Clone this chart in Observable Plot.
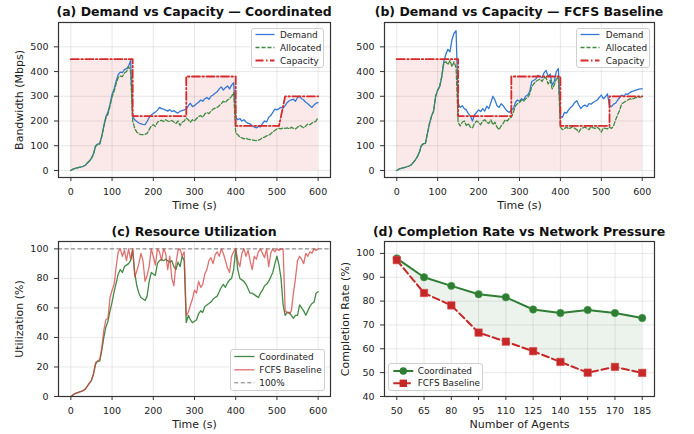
<!DOCTYPE html>
<html>
<head>
<meta charset="utf-8">
<script src="https://cdn.jsdelivr.net/npm/d3@7"></script>
<script src="https://cdn.jsdelivr.net/npm/@observablehq/plot@0.6"></script>
<style>
  html, body { margin: 0; padding: 0; background: #fff; }
  #wrap { position: relative; width: 694px; height: 434px; overflow: hidden; font-family: "DejaVu Sans", sans-serif; background: #fff; }
  .panel { position: absolute; }
  .panel svg { display: block; }
  .title { position: absolute; font-weight: bold; font-size: 12.5px; white-space: nowrap; transform: translate(-50%, -50%); color: #111; }
  .legend { position: absolute; background: rgba(255,255,255,0.85); border: 1px solid #cfcfcf; border-radius: 3px; box-sizing: border-box; }
  .legend svg { position: absolute; left: 0; top: 0; overflow: visible; }
  .legend span { position: absolute; font-size: 8.9px; color: #222; white-space: nowrap; transform: translateY(-50%); line-height: 1; }
</style>
</head>
<body>
<div id="wrap"></div>
<script>
// ---------------- data ----------------
const sampleTimes = d3.range(0, 601, 5); // seconds, one sample every 5 s

// (a) Coordinated
const demandA = [0,5,8,10,12,14,17,21,30,38,50,68,100,107,109,140,182,218,236,268,308,330,362,388,398,396,408,412,422,445,
  218,205,198,192,188,186,185,198,214,224,230,236,244,255,250,248,244,240,246,238,242,236,232,240,242,245,
  248,262,272,258,262,270,276,285,280,290,295,288,300,305,312,318,330,338,325,335,342,330,345,355,
  215,205,210,200,205,196,190,188,181,176,172,178,176,190,200,196,215,222,235,248,245,250,255,252,
  262,275,282,286,288,280,295,300,290,285,276,270,262,255,265,272,274];
const allocA = [0,5,8,10,12,14,17,21,30,38,49,66,97,105,107,136,176,212,228,260,298,320,352,376,382,380,394,400,420,402,
  200,170,155,148,145,145,146,150,165,180,185,178,195,200,203,198,205,200,198,202,196,190,200,182,195,200,
  212,205,195,205,200,210,218,222,215,228,235,230,240,248,252,255,262,270,280,275,285,290,300,315,
  150,145,135,132,128,130,127,125,124,122,121,123,126,132,135,140,142,148,155,162,168,170,168,172,
  170,172,168,175,170,168,175,182,178,172,180,188,185,192,195,200,215];
const capTimeA = [0,150,150,280,280,400,400,505,520,600];
const capValA  = [450,450,220,220,380,380,180,180,300,300];

// (b) FCFS Baseline
const demandB = [0,5,8,10,12,15,18,22,32,42,55,72,100,108,110,150,190,220,240,300,325,340,380,440,470,490,480,530,555,565,
  270,255,262,250,245,230,220,200,225,235,245,238,250,240,260,250,275,300,285,262,255,270,262,250,240,235,
  245,250,275,285,280,290,285,300,305,320,360,365,370,385,380,375,395,405,380,390,345,360,400,412,
  220,215,235,232,245,255,262,275,282,265,250,260,265,258,270,268,275,280,285,295,305,290,298,310,
  262,258,268,272,285,295,305,300,310,308,315,320,322,325,328,330,330];
const allocB = [0,5,8,10,12,15,18,22,32,42,55,72,100,108,110,150,190,220,240,300,325,340,380,435,440,428,445,420,440,415,
  195,180,195,200,182,190,175,172,190,200,195,185,200,205,195,190,205,185,195,175,165,180,190,205,200,210,
  215,235,260,270,275,285,280,290,295,310,340,350,360,365,370,360,375,375,350,365,330,345,370,375,
  175,165,170,175,168,172,178,170,165,155,168,172,175,170,165,178,172,170,175,168,155,172,170,168,
  175,170,180,205,225,245,270,275,280,285,290,288,292,295,298,296,300];
const capTimeB = [0,150,150,280,280,400,400,520,520,600];
const capValB  = [450,450,220,220,380,380,180,180,300,300];

// (c) Resource utilization (%)
const utilCoord = [0,1,2,2.5,3,3.5,4,5,7,9,11,15,22,24,24,31,40,47,51,58,64,71,77,83,86,84,88,89,90,92,
  99,84,75,70,67,66,65,68,78,84,83,82,90,92,93,92,93,92,91,92,88,86,91,88,95,92,
  50,55,52,50,51,52,56,58,57,61,62,63,64,66,67,68,71,74,76,74,77,79,80,86,
  100,86,80,79,78,76,73,70,70,69,68,67,70,72,75,76,78,81,84,90,95,89,80,62,
  55,57,57,55,53,55,55,62,60,58,55,58,61,63,64,70,71];
const utilFcfs = [0,1,2,2.5,3,3.5,4,5,7,9,11,16,23,24,25,33,45,52,53,67,72,76,88,98,100,95,99,92,100,93,
  100,81,85,90,97,92,78,82,88,100,95,89,100,98,92,100,97,86,95,80,75,90,99,100,95,98,
  55,57,62,66,72,70,78,74,76,83,86,92,94,90,96,98,95,100,97,92,87,84,95,98,
  100,92,88,97,100,95,99,92,86,95,93,98,100,97,94,100,88,97,100,98,100,99,100,100,
  58,57,56,58,70,80,92,95,93,90,97,95,98,97,100,99,100];

// (d) Completion rate vs number of agents
const agents = [50,65,80,95,110,125,140,155,170,185];
const rateCoord = [97.9,90.0,86.4,82.9,81.6,76.5,75.0,76.3,75.0,72.9];
const rateFcfs  = [97.2,83.4,78.2,66.8,63.0,59.0,54.5,50.0,52.4,49.9];

// tick labels
const timeTicks = [0,100,200,300,400,500,600];
const bwTicks = [0,100,200,300,400,500];
const utilTicks = [0,20,40,60,80,100];
const rateTicks = [40,50,60,70,80,90,100];

// ---------------- styling ----------------
const FONT = "DejaVu Sans";
const BLUE = "#3478d4", GREEN = "#3d8b40", RED = "#d62a2a";
const CGREEN = "#2e7d32", CRED = "#d64040";
const DRED = "#c62828";
const CAPDASH = "8,2.5,1.5,2.5";

const series = (vals) => sampleTimes.map((t, i) => ({t, v: vals[i]}));
const steps = (ts, vs) => ts.map((t, i) => ({t, v: vs[i]}));

function baseStyle() {
  return {fontFamily: FONT, fontSize: "9.5px", color: "#222", background: "transparent", overflow: "visible"};
}
function gridAndAxes(xt, yt, xl, yl) {
  const m = [
    Plot.frame({stroke: "#333", strokeWidth: 1.2}),
    Plot.axisX(xt, {tickSize: 4, tickPadding: 7, stroke: "#333", label: null}),
    Plot.axisY(yt, {tickSize: 4, tickPadding: 6, stroke: "#333", label: null})
  ];
  if (xl) m.push(Plot.text([xl], {text: d => d, frameAnchor: "bottom", textAnchor: "middle", dy: 31.5, lineAnchor: "bottom", fontSize: 11, fill: "#222"}));
  if (yl) m.push(Plot.text([yl], {text: d => d, frameAnchor: "left", textAnchor: "middle", rotate: -90, dx: -43, lineAnchor: "top", fontSize: 11, fill: "#222"}));
  return m;
}
function grids(xt, yt) {
  return [
    Plot.gridX(xt, {stroke: "#000", strokeOpacity: 0.09, strokeWidth: 1}),
    Plot.gridY(yt, {stroke: "#000", strokeOpacity: 0.09, strokeWidth: 1})
  ];
}

function bwPanel(demand, alloc, capT, capV, ml, mr, yl) {
  const cap = steps(capT, capV);
  return Plot.plot({
    width: 347, height: 217, marginLeft: ml, marginRight: mr, marginTop: 22, marginBottom: 40,
    style: baseStyle(),
    x: {domain: [-30, 630]},
    y: {domain: [-28.5, 598.5]},
    marks: [
      ...grids(timeTicks, bwTicks),
      Plot.areaY(cap, {x: "t", y1: 0, y2: "v", fill: RED, fillOpacity: 0.1}),
      Plot.line(series(demand), {x: "t", y: "v", stroke: BLUE, strokeWidth: 1.3}),
      Plot.line(series(alloc), {x: "t", y: "v", stroke: GREEN, strokeWidth: 1.3, strokeDasharray: "4,2"}),
      Plot.line(cap, {x: "t", y: "v", stroke: RED, strokeWidth: 1.8, strokeDasharray: CAPDASH}),
      ...gridAndAxes(timeTicks, bwTicks, "Time (s)", yl)
    ]
  });
}

const wrap = document.getElementById("wrap");
function place(el, left, top) {
  const d = document.createElement("div");
  d.className = "panel";
  d.style.left = left + "px"; d.style.top = top + "px";
  d.appendChild(el);
  wrap.appendChild(d);
}
function title(text, cx, cy) {
  const d = document.createElement("div");
  d.className = "title"; d.textContent = text;
  d.style.left = cx + "px"; d.style.top = cy + "px";
  wrap.appendChild(d);
}
function legend(left, top, w, h, items, rowYs, sx0, sx1, tx) {
  const d = document.createElement("div");
  d.className = "legend";
  Object.assign(d.style, {left: left + "px", top: top + "px", width: w + "px", height: h + "px"});
  let svg = `<svg width="${w}" height="${h}">`;
  items.forEach((it, i) => {
    const y = rowYs[i] - 1;
    svg += `<line x1="${sx0}" x2="${sx1}" y1="${y}" y2="${y}" stroke="${it.stroke}" stroke-width="${it.width}" ${it.dash ? `stroke-dasharray="${it.dash}"` : ""} ${it.opacity ? `stroke-opacity="${it.opacity}"` : ""}/>`;
    const mx = (sx0 + sx1) / 2;
    if (it.marker === "circle") svg += `<circle cx="${mx}" cy="${y}" r="3.7" fill="${it.stroke}"/>`;
    if (it.marker === "square") svg += `<rect x="${mx - 3.7}" y="${y - 3.7}" width="7.4" height="7.4" fill="${it.stroke}"/>`;
  });
  svg += `</svg>`;
  d.innerHTML = svg;
  items.forEach((it, i) => {
    const s = document.createElement("span");
    s.textContent = it.label;
    s.style.left = tx + "px"; s.style.top = (rowYs[i] - 1) + "px";
    d.appendChild(s);
  });
  wrap.appendChild(d);
}

// (a)
place(bwPanel(demandA, allocA, capTimeA, capValA, 58, 17, "Bandwidth (Mbps)"), 0, 0);
// (b)
place(bwPanel(demandB, allocB, capTimeB, capValB, 37, 40, null), 347, 0);

// (c)
const pc = Plot.plot({
  width: 347, height: 217, marginLeft: 58, marginRight: 17, marginTop: 24, marginBottom: 38,
  style: baseStyle(),
  x: {domain: [-30, 630]},
  y: {domain: [0, 105]},
  marks: [
    ...grids(timeTicks, utilTicks),
    Plot.ruleY([100], {stroke: "#777", strokeWidth: 1, strokeDasharray: "4,2.5"}),
    Plot.line(series(utilCoord), {x: "t", y: "v", stroke: CGREEN, strokeWidth: 1.3, strokeOpacity: 0.9}),
    Plot.line(series(utilFcfs), {x: "t", y: "v", stroke: CRED, strokeWidth: 1.3, strokeOpacity: 0.75}),
    ...gridAndAxes(timeTicks, utilTicks, "Time (s)", "Utilization (%)")
  ]
});
place(pc, 0, 217);

// (d)
const dRows = agents.map((a, i) => ({a, c: rateCoord[i], f: rateFcfs[i]}));
const pd = Plot.plot({
  width: 347, height: 217, marginLeft: 37, marginRight: 40, marginTop: 24, marginBottom: 38,
  style: baseStyle(),
  x: {domain: [43.25, 191.75]},
  y: {domain: [40, 105]},
  marks: [
    ...grids(agents, rateTicks),
    Plot.areaY(dRows, {x: "a", y1: "f", y2: "c", fill: CGREEN, fillOpacity: 0.09}),
    Plot.line(dRows, {x: "a", y: "c", stroke: CGREEN, strokeWidth: 2}),
    Plot.dot(dRows, {x: "a", y: "c", r: 3.7, fill: CGREEN, stroke: "#3f9a44", strokeWidth: 0.6}),
    Plot.line(dRows, {x: "a", y: "f", stroke: DRED, strokeWidth: 2, strokeDasharray: "7,3.5"}),
    Plot.dot(dRows, {x: "a", y: "f", r: 4.2, symbol: "square", fill: DRED, stroke: "#d84a4a", strokeWidth: 0.6}),
    ...gridAndAxes(agents, rateTicks, "Number of Agents", "Completion Rate (%)")
  ]
});
place(pd, 347, 217);

// titles
title("(a) Demand vs Capacity — Coordinated", 194, 11);
title("(b) Demand vs Capacity — FCFS Baseline", 519, 11);
title("(c) Resource Utilization", 194, 230.5);
title("(d) Completion Rate vs Network Pressure", 519, 230.5);

// legends
const bwItems = [
  {label: "Demand", stroke: BLUE, width: 1.3},
  {label: "Allocated", stroke: GREEN, width: 1.3, dash: "4,2"},
  {label: "Capacity", stroke: RED, width: 1.8, dash: CAPDASH}
];
legend(250.5, 28.3, 73.5, 40, bwItems, [6.5, 19.5, 32.5], 3.5, 22.5, 28.5);
legend(576.3, 28.3, 74, 40, bwItems, [6.5, 19.5, 32.5], 3.5, 22.5, 28.5);
legend(230, 349.3, 94.5, 41.7, [
  {label: "Coordinated", stroke: CGREEN, width: 1.3, opacity: 0.9},
  {label: "FCFS Baseline", stroke: CRED, width: 1.3, opacity: 0.75},
  {label: "100%", stroke: "#777", width: 1, dash: "4,2.5"}
], [7.5, 20.8, 33.8], 3.3, 23.3, 28.3);
legend(387.7, 362.7, 95.5, 28.3, [
  {label: "Coordinated", stroke: CGREEN, width: 2, marker: "circle"},
  {label: "FCFS Baseline", stroke: DRED, width: 2, dash: "7,3.5", marker: "square"}
], [8, 20.3], 4.3, 24.3, 29);
</script>
</body>
</html>
